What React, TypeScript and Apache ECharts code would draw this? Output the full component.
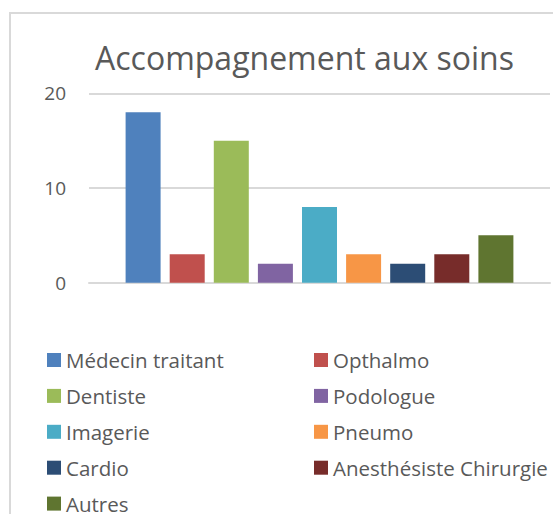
import React, { useEffect, useRef } from "react";
import * as echarts from "echarts";

const title = "Accompagnement aux soins";
const seriesNames = [
  "Médecin traitant",
  "Opthalmo",
  "Dentiste",
  "Podologue",
  "Imagerie",
  "Pneumo",
  "Cardio",
  "Anesthésiste Chirurgie",
  "Autres",
];
const seriesValues = [18, 3, 15, 2, 8, 3, 2, 3, 5];
const colors = [
  "#4F81BD",
  "#C0504D",
  "#9BBB59",
  "#8064A2",
  "#4BACC6",
  "#F79646",
  "#2C4D75",
  "#772C2A",
  "#5F7530",
];
const legendCol1 = ["Médecin traitant", "Dentiste", "Imagerie", "Cardio", "Autres"];
const legendCol2 = ["Opthalmo", "Podologue", "Pneumo", "Anesthésiste Chirurgie"];
const yMin = 0;
const yMax = 20;
const yInterval = 10;

const FONT = "'Open Sans', sans-serif";
const TEXT = "#595959";
const H = 580;

export default function App() {
  const ref = useRef<HTMLDivElement>(null);
  useEffect(() => {
    if (!ref.current) return;
    const chart = echarts.init(ref.current, null, { renderer: "svg" });
    const legendBase = {
      orient: "vertical",
      top: 349.5,
      padding: 0,
      itemWidth: 14,
      itemHeight: 14,
      itemGap: 14.9,
      icon: "rect",
      textStyle: { color: TEXT, fontSize: 20.5, fontFamily: FONT, lineHeight: 21 },
      selectedMode: false,
    };
    chart.setOption({
      animation: false,
      backgroundColor: "#ffffff",
      title: {
        text: title,
        left: 95,
        top: 41,
        padding: 0,
        textStyle: { color: TEXT, fontSize: 32, fontWeight: "normal", fontFamily: FONT },
      },
      graphic: [
        {
          type: "rect",
          shape: { x: 10, y: 13, width: 700, height: 700 },
          style: { fill: "none", stroke: "#d9d9d9", lineWidth: 2 },
          silent: true,
        },
      ],
      legend: [
        { ...legendBase, left: 47, data: legendCol1 },
        { ...legendBase, left: 314, data: legendCol2 },
      ],
      grid: { left: 89, right: 3, top: 93.3, bottom: H - 282.7, containLabel: false },
      xAxis: {
        type: "category",
        data: [""],
        axisLine: { show: true, lineStyle: { color: "#d9d9d9", width: 2 } },
        axisTick: { show: false },
        axisLabel: { show: false },
      },
      yAxis: {
        type: "value",
        min: yMin,
        max: yMax,
        interval: yInterval,
        axisLine: { show: false },
        axisTick: { show: false },
        axisLabel: { color: TEXT, fontSize: 19, fontFamily: FONT, margin: 23 },
        splitLine: { lineStyle: { color: "#d9d9d9", width: 2 } },
      },
      series: seriesNames.map((name, i) => ({
        name,
        type: "bar",
        data: [seriesValues[i]],
        barWidth: 35,
        barGap: "26%",
        itemStyle: { color: colors[i] },
      })),
    });
    return () => chart.dispose();
  }, []);
  return (
    <div
      ref={ref}
      style={{ position: "fixed", left: 0, top: 0, width: 553, height: H }}
    />
  );
}
